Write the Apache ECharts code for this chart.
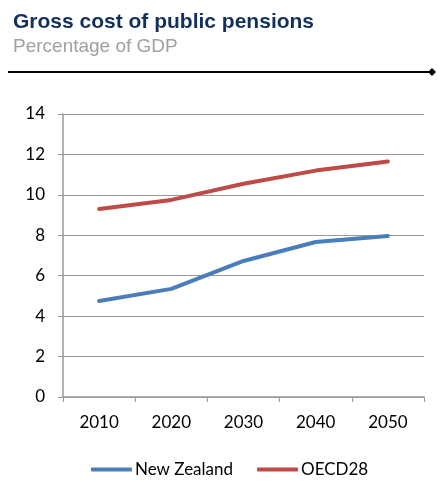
<!DOCTYPE html>
<html>
<head>
<meta charset="utf-8">
<script src="https://cdn.jsdelivr.net/npm/echarts@6/dist/echarts.min.js"></script>
<style>
  html, body { margin: 0; padding: 0; background: #fff; }
  #main { width: 442px; height: 483px; }
</style>
</head>
<body>
<div id="main"></div>
<script>
const years = ['2010', '2020', '2030', '2040', '2050'];
const newZealand = [4.75, 5.35, 6.73, 7.67, 7.97];
const oecd28 = [9.3, 9.75, 10.55, 11.2, 11.65];

const axisFont = 'Lato, "Open Sans", sans-serif';

const chart = echarts.init(document.getElementById('main'));
chart.setOption({
    animation: false,
    title: {
        text: 'Gross cost of public pensions',
        subtext: 'Percentage of GDP',
        left: 8,
        top: 7,
        itemGap: 4,
        textStyle: { fontFamily: 'Liberation Sans, Arial', fontSize: 21, fontWeight: 'bold', color: '#12305e' },
        subtextStyle: { fontFamily: 'Liberation Sans, Arial', fontSize: 19, color: '#a0a0a0' }
    },
    graphic: [
        { type: 'line', shape: { x1: 8, y1: 72, x2: 430, y2: 72 }, style: { stroke: '#000', lineWidth: 2 } },
        { type: 'polygon', shape: { points: [[432, 68], [436, 72], [432, 76], [428, 72]] }, style: { fill: '#000' } }
    ],
    grid: { left: 63, right: 18, top: 114, bottom: 86 },
    legend: {
        top: 456,
        left: 86,
        itemWidth: 41,
        itemHeight: 4,
        itemGap: 24,
        icon: 'roundRect',
        textStyle: { fontFamily: axisFont, fontSize: 17, color: '#000', padding: [0, 0, 0, -2] },
        data: ['New Zealand', 'OECD28']
    },
    xAxis: {
        type: 'category',
        data: years,
        boundaryGap: true,
        axisLine: { lineStyle: { color: '#999', width: 1.5 } },
        axisTick: { show: true, length: 5, lineStyle: { color: '#999' } },
        axisLabel: { fontFamily: axisFont, fontSize: 17, color: '#000', margin: 17 }
    },
    yAxis: {
        type: 'value',
        min: 0,
        max: 14,
        interval: 2,
        axisLine: { show: true, lineStyle: { color: '#999', width: 1.5 } },
        axisTick: { show: true, length: 5, lineStyle: { color: '#999' } },
        splitLine: { lineStyle: { color: '#999', width: 1 } },
        axisLabel: { fontFamily: axisFont, fontSize: 17, color: '#000', margin: 18 }
    },
    series: [
        {
            name: 'New Zealand',
            type: 'line',
            data: newZealand,
            symbol: 'none',
            lineStyle: { color: '#4a7ebb', width: 4, cap: 'round' },
            itemStyle: { color: '#4a7ebb' }
        },
        {
            name: 'OECD28',
            type: 'line',
            data: oecd28,
            symbol: 'none',
            lineStyle: { color: '#be4b48', width: 4, cap: 'round' },
            itemStyle: { color: '#be4b48' }
        }
    ]
});
</script>
</body>
</html>
